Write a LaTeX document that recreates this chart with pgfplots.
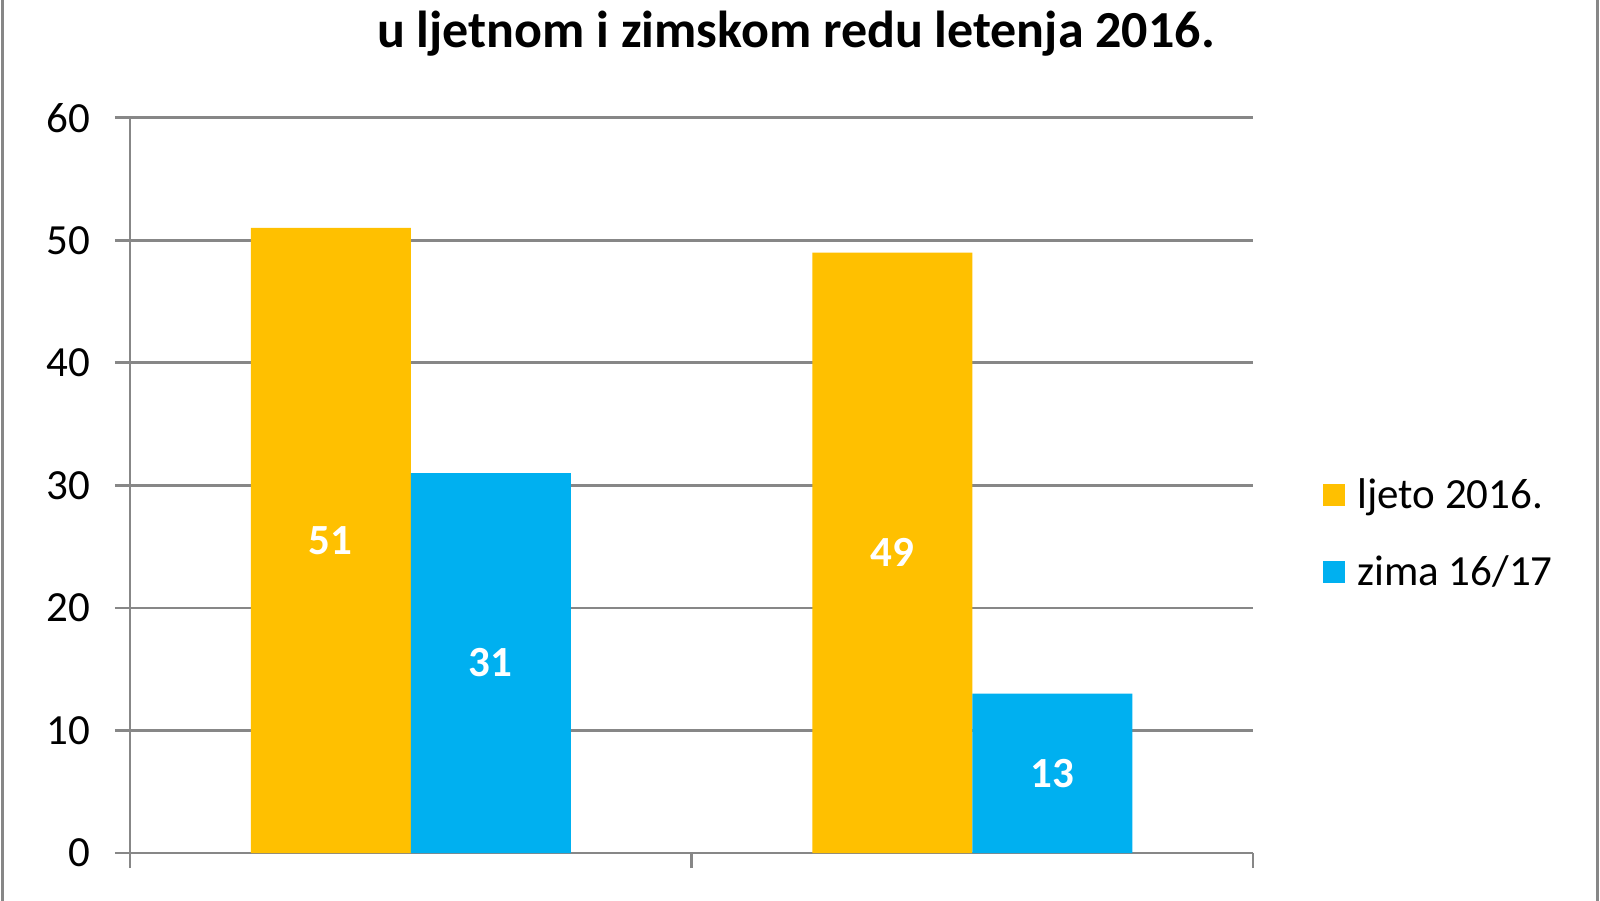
\documentclass[border=0pt]{standalone}
\usepackage{fontspec}
\setmainfont{Carlito}
\usepackage{pgfplots}
\pgfplotsset{compat=1.18}
\definecolor{cOrange}{HTML}{FFC000}
\definecolor{cBlue}{HTML}{00B0F0}
\definecolor{cGrid}{HTML}{878787}
\begin{document}
\begin{tikzpicture}
\useasboundingbox (0pt,0pt) rectangle (800pt,450pt);
\fill[white] (0pt,0pt) rectangle (800pt,450pt);
\draw[cGrid, line width=1.3pt] (1.2pt,-5pt) -- (1.2pt,455pt);
\draw[cGrid, line width=1.3pt] (798.6pt,-5pt) -- (798.6pt,455pt);
\node[anchor=base, font=\fontsize{26}{30}\selectfont\bfseries] at (398pt,426pt) {u ljetnom i zimskom redu letenja 2016.};
\begin{axis}[
  at={(65pt,23.5pt)}, anchor=south west,
  scale only axis, width=561.5pt, height=367.65pt,
  ybar=0pt, bar width=80pt,
  xmin=-0.5, xmax=1.5, ymin=0, ymax=60,
  xtick={-0.5,0.5,1.5}, xticklabels={},
  ytick={0,10,...,60},
  axis lines*=left,
  axis line style={cGrid, line width=1.3pt, -},
  tick align=outside,
  major tick length=7.5pt,
  tick style={cGrid, line width=1.3pt},
  ymajorgrids,
  grid style={cGrid, line width=1.3pt},
  /pgf/number format/assume math mode=true,
  ticklabel style={font=\fontsize{21.5}{25}\selectfont},
  yticklabel style={xshift=-9pt},
  clip=false,
  nodes near coords,
  visualization depends on=y \as \rawy,
  every node near coord/.append style={anchor=center, text=white, font=\fontsize{21.5}{25}\selectfont\bfseries, shift={(axis direction cs:0,-\rawy/2)}},
  legend style={at={(axis description cs:1.057,0.521)}, anchor=north west, draw=none, fill=none,
    font=\fontsize{21.5}{25}\selectfont, row sep=18pt,
    /tikz/every odd column/.append style={column sep=4pt}},
  legend cell align=left,
  legend image code/.code={\fill[#1] (0pt,-5.5pt) rectangle (11pt,5.5pt);},
]
\addplot[fill=cOrange, draw=none] coordinates {(0,51) (1,49)};
\addlegendentry{ljeto 2016.}
\addplot[fill=cBlue, draw=none] coordinates {(0,31) (1,13)};
\addlegendentry{zima 16/17}
\end{axis}
\end{tikzpicture}
\end{document}
